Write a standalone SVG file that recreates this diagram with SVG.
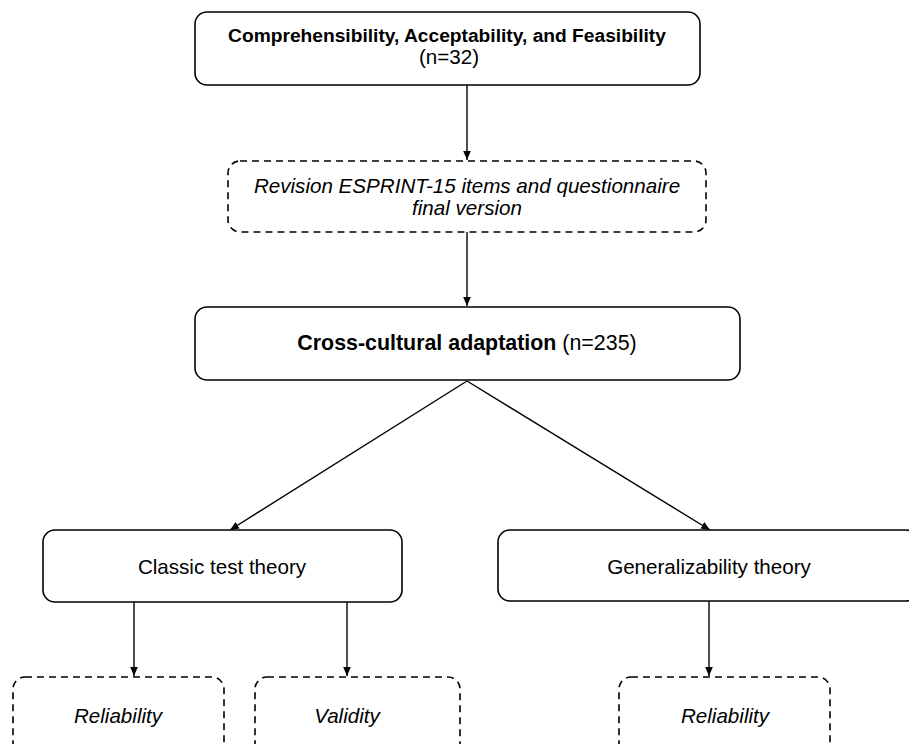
<svg xmlns="http://www.w3.org/2000/svg" width="909" height="744" viewBox="0 0 909 744">
<defs>
<marker id="ah" markerWidth="10" markerHeight="10" refX="9" refY="5" orient="auto" markerUnits="userSpaceOnUse">
<path d="M0,1.2 L9,5 L0,8.8 Z" fill="#000"/>
</marker>
<style>
.box{fill:#fff;stroke:#000;stroke-width:1.6}
.dash{fill:#fff;stroke:#000;stroke-width:1.6;stroke-dasharray:7,5}
.t{font-family:"Liberation Sans",Arial,sans-serif;font-size:20.6px;fill:#000;text-anchor:middle}
.b{font-weight:bold}
.i{font-style:italic}
.c{stroke:#000;stroke-width:1.4;fill:none}
</style>
</defs>
<rect width="909" height="744" fill="#fff"/>
<g id="connectors">
<line class="c" x1="467" y1="85" x2="467" y2="160" marker-end="url(#ah)"/>
<line class="c" x1="467" y1="232" x2="467" y2="306" marker-end="url(#ah)"/>
<line class="c" x1="467" y1="381" x2="230" y2="530" marker-end="url(#ah)"/>
<line class="c" x1="467" y1="381" x2="710" y2="530" marker-end="url(#ah)"/>
<line class="c" x1="134" y1="602" x2="134" y2="676" marker-end="url(#ah)"/>
<line class="c" x1="347" y1="602" x2="347" y2="676" marker-end="url(#ah)"/>
<line class="c" x1="709" y1="601" x2="709" y2="676" marker-end="url(#ah)"/>
</g>
<g id="n1">
<rect class="box" x="195" y="12" width="505" height="73" rx="12"/>
<text class="t b" x="447" y="42" style="font-size:19.2px">Comprehensibility, Acceptability, and Feasibility</text>
<text class="t" x="449" y="63.5">(n=32)</text>
</g>
<g id="n2">
<rect class="dash" x="228" y="161" width="478" height="71" rx="12"/>
<text class="t i" x="467" y="193">Revision ESPRINT-15 items and questionnaire</text>
<text class="t i" x="467" y="215">final version</text>
</g>
<g id="n3">
<rect class="box" x="195" y="307" width="545" height="73" rx="12"/>
<text class="t" x="467" y="350" style="font-size:21.4px"><tspan class="b">Cross-cultural adaptation</tspan> (n=235)</text>
</g>
<g id="n4">
<rect class="box" x="43" y="530" width="359" height="72" rx="12"/>
<text class="t" x="222" y="574">Classic test theory</text>
</g>
<g id="n5">
<rect class="box" x="498" y="530" width="420" height="71" rx="12"/>
<text class="t" x="709" y="574">Generalizability theory</text>
</g>
<g id="n6">
<rect class="dash" x="13" y="677" width="211" height="90" rx="12"/>
<text class="t i" x="118" y="723">Reliability</text>
</g>
<g id="n7">
<rect class="dash" x="255" y="677" width="205" height="90" rx="12"/>
<text class="t i" x="347" y="723">Validity</text>
</g>
<g id="n8">
<rect class="dash" x="619" y="677" width="211" height="90" rx="12"/>
<text class="t i" x="725" y="723">Reliability</text>
</g>
</svg>
